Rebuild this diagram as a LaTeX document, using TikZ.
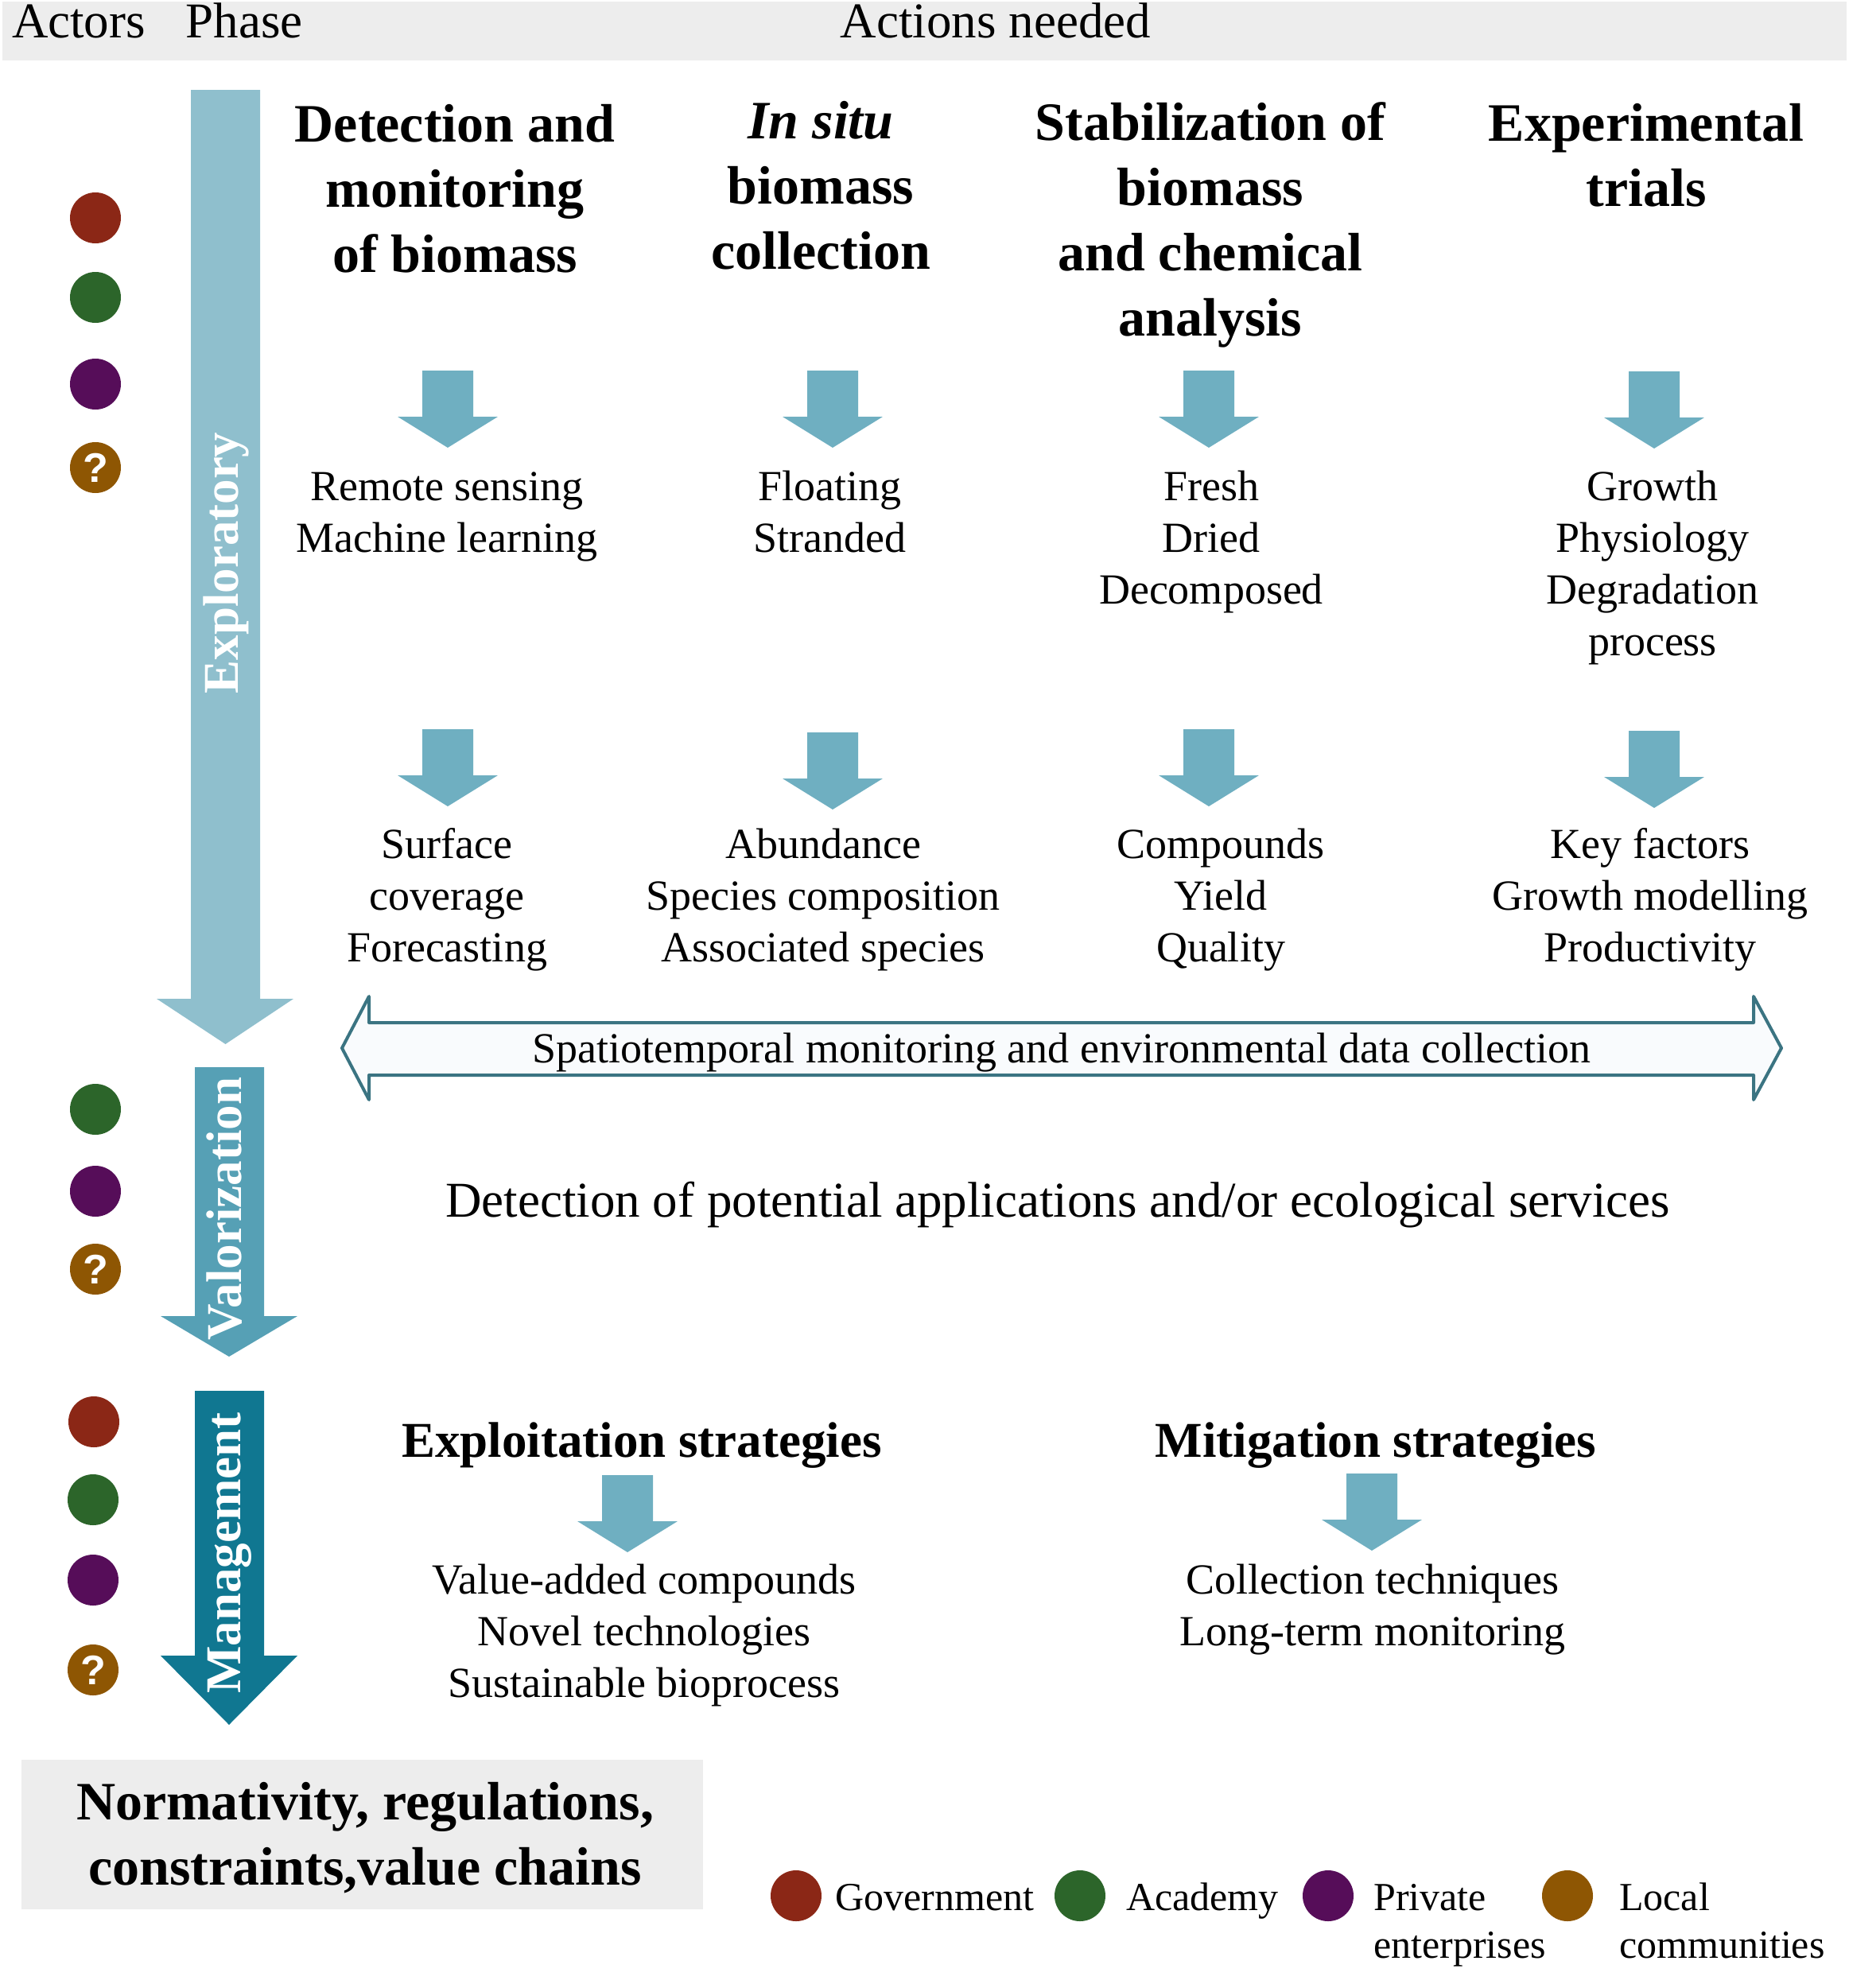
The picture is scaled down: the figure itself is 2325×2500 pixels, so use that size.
\documentclass[tikz,border=0pt]{standalone}
\usepackage{fontspec}
\setmainfont{Liberation Serif}
\newfontfamily\qfont{Liberation Sans}
\definecolor{bandgray}{HTML}{EDEDED}
\definecolor{explo}{HTML}{8FBFCD}
\definecolor{valo}{HTML}{56A0B5}
\definecolor{mgmt}{HTML}{107791}
\definecolor{smallarr}{HTML}{6FAFC1}
\definecolor{dblline}{HTML}{3B7482}
\definecolor{dblfill}{HTML}{F9FBFD}
\definecolor{cred}{HTML}{8B2716}
\definecolor{cgreen}{HTML}{2C652A}
\definecolor{cpurple}{HTML}{560D59}
\definecolor{cbrown}{HTML}{8E5603}
\newcommand\dnarrow[2]{\fill[smallarr] (#1-32,#2) -- (#1+32,#2) -- (#1+32,#2+58) -- (#1+63,#2+58) -- (#1,#2+97) -- (#1-63,#2+58) -- (#1-32,#2+58) -- cycle;}
\begin{document}
\begin{tikzpicture}[x=1pt,y=-1pt,
  toplab/.style={font=\fontsize{63}{76}\selectfont, inner sep=0pt, anchor=base},
  hdr/.style={font=\fontsize{68}{82}\selectfont\bfseries, align=center, inner sep=0pt, anchor=north},
  hdrb/.style={font=\fontsize{63}{76}\selectfont\bfseries, inner sep=0pt, anchor=base},
  body/.style={font=\fontsize{54}{65}\selectfont, align=center, inner sep=0pt, anchor=north},
  phase/.style={font=\fontsize{63}{76}\selectfont\bfseries, text=white, inner sep=0pt, anchor=base, rotate=90},
  dot/.style={circle, inner sep=0pt, minimum size=64pt},
  qdot/.style={dot, fill=cbrown, text=white, font={\qfont\bfseries\fontsize{52}{56}\selectfont}},
  leg/.style={font=\fontsize{50}{60}\selectfont, align=left, inner sep=0pt, anchor=north west}]
\useasboundingbox (0,0) rectangle (2325,2500);
% header band
\fill[bandgray] (3,2) rectangle (2322,76);
\node[toplab] (lact) at (99,47) {Actors};
\node[toplab] (lpha) at (307,47) {Phase};
\node[toplab] (lneed) at (1252,47) {Actions needed};
% phase arrows
\fill[explo] (240,113) -- (327,113) -- (327,1256) -- (369,1256) -- (283.5,1313) -- (197,1256) -- (240,1256) -- cycle;
\fill[valo] (245,1342) -- (332,1342) -- (332,1655) -- (374,1655) -- (288,1706) -- (202,1655) -- (245,1655) -- cycle;
\fill[mgmt] (245,1749) -- (332,1749) -- (332,2082) -- (374,2082) -- (288,2169) -- (202,2082) -- (245,2082) -- cycle;
\node[phase] (pexp) at (299,708) {Exploratory};
\node[phase] (pval) at (303,1520) {Valorization};
\node[phase] (pman) at (302,1953) {Management};
% actor dots
\node[dot, fill=cred] (e1) at (120,274) {};
\node[dot, fill=cgreen] (e2) at (120,374) {};
\node[dot, fill=cpurple] (e3) at (120,483) {};
\node[qdot] (e4) at (120,588) {?};
\node[dot, fill=cgreen] (v2) at (120,1395) {};
\node[dot, fill=cpurple] (v3) at (120,1498) {};
\node[qdot] (v4) at (120,1596) {?};
\node[dot, fill=cred] (m1) at (118,1788) {};
\node[dot, fill=cgreen] (m2) at (117,1886) {};
\node[dot, fill=cpurple] (m3) at (117,1987) {};
\node[qdot] (m4) at (117,2100) {?};
% column headers
\node[hdr] (h1) at (572,120.6) {\strut Detection and\\monitoring\\of biomass};
\node[hdr] (h2) at (1032,116.6) {\strut\textit{In situ}\\biomass\\collection};
\node[hdr] (h3) at (1522,118.6) {\strut Stabilization of\\biomass\\and chemical\\analysis};
\node[hdr] (h4) at (2070,119.6) {\strut Experimental\\trials};
% first row arrows
\dnarrow{563}{466}
\dnarrow{1047}{466}
\dnarrow{1520}{466}
\dnarrow{2080}{467}
% first row texts
\node[body] (r11) at (562,583.5) {\strut Remote sensing\\Machine learning};
\node[body] (r12) at (1043,583.5) {\strut Floating\\Stranded};
\node[body] (r13) at (1523,583.5) {\strut Fresh\\Dried\\Decomposed};
\node[body] (r14) at (2078,583.5) {\strut Growth\\Physiology\\Degradation\\process};
% second row arrows
\dnarrow{563}{917}
\dnarrow{1047}{921}
\dnarrow{1520}{917}
\dnarrow{2080}{919}
% second row texts
\node[body] (r21) at (562,1033.5) {\strut Surface\\coverage\\Forecasting};
\node[body] (r22) at (1035,1033.5) {\strut Abundance\\Species composition\\Associated species};
\node[body] (r23) at (1535,1033.5) {\strut Compounds\\Yield\\Quality};
\node[body] (r24) at (2075,1033.5) {\strut Key factors\\Growth modelling\\Productivity};
% double arrow
\filldraw[fill=dblfill, draw=dblline, line width=4pt, line join=round]
  (430,1318) -- (464,1253) -- (464,1286) -- (2205,1286) -- (2205,1253) -- (2240,1318)
  -- (2205,1383) -- (2205,1352) -- (464,1352) -- (464,1383) -- cycle;
\node[font=\fontsize{54}{65}\selectfont, inner sep=0pt, anchor=base] (spat) at (1335,1336) {Spatiotemporal monitoring and environmental data collection};
% valorization text
\node[font=\fontsize{63}{76}\selectfont, inner sep=0pt, anchor=base] (detapp) at (1330,1530) {Detection of potential applications and/or ecological services};
% management
\node[hdrb] (expl) at (807,1832) {Exploitation strategies};
\node[hdrb] (miti) at (1730,1832) {Mitigation strategies};
\dnarrow{789}{1855}
\dnarrow{1725}{1853}
\node[body] (mt1) at (810,1958.5) {\strut Value-added compounds\\Novel technologies\\Sustainable bioprocess};
\node[body] (mt2) at (1726,1958.5) {\strut Collection techniques\\Long-term monitoring};
% normativity box
\node[fill=bandgray, inner sep=0pt, minimum width=857pt, minimum height=188pt] (normbox) at (455.5,2307) {};
\node[hdr] (normtxt) at (459,2230.6) {\strut Normativity, regulations,\\constraints,value chains};
% legend
\node[dot, fill=cred] (lg1) at (1001,2384) {};
\node[dot, fill=cgreen] (lg2) at (1358,2384) {};
\node[dot, fill=cpurple] (lg3) at (1670,2384) {};
\node[dot, fill=cbrown] (lg4) at (1971,2384) {};
\node[leg] (lt1) at (1050,2360) {\strut Government};
\node[leg] (lt2) at (1416,2360) {\strut Academy};
\node[leg] (lt3) at (1727,2360) {\strut Private\\enterprises};
\node[leg] (lt4) at (2036,2360) {\strut Local\\communities};
\end{tikzpicture}
\end{document}
